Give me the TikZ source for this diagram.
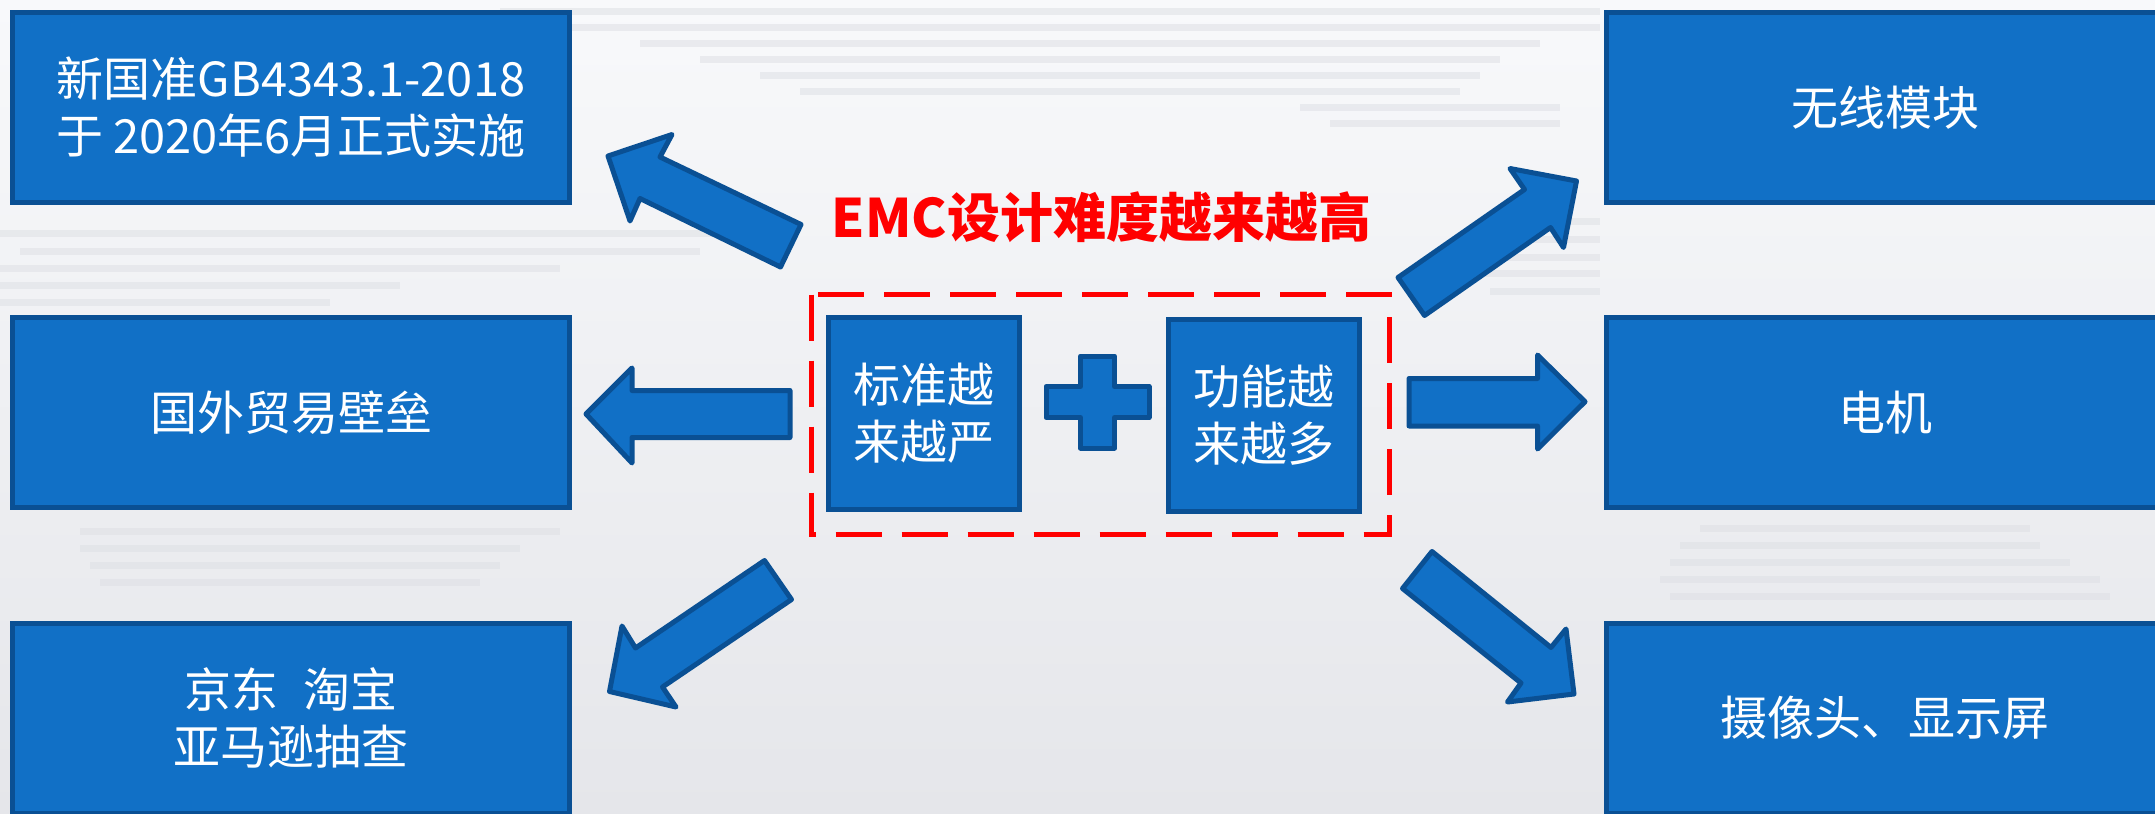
\documentclass[tikz,border=0pt]{standalone}
\usepackage{fontspec}
\setmainfont{Noto Sans CJK SC}
\definecolor{boxfill}{RGB}{17,112,198}
\definecolor{boxline}{RGB}{10,80,148}
\definecolor{bgtop}{RGB}{248,249,251}
\definecolor{bgbot}{RGB}{229,230,234}
\definecolor{stripe}{RGB}{222,224,229}
\definecolor{titlered}{RGB}{255,0,0}
\tikzset{
  panel/.style={draw=boxline, line width=2.5pt, fill=boxfill, text=white,
    font=\fontsize{23.5pt}{28.5pt}\selectfont, align=center, inner sep=0pt,
    minimum width=278.5pt, minimum height=95pt},
  smallpanel/.style={panel, minimum width=95.5pt, minimum height=96pt},
  blockarrow/.style={draw=boxline, line width=2.5pt, fill=boxfill, line join=round},
  frame/.style={draw=titlered, line width=2.5pt, dash pattern=on 23pt off 10pt},
  bgline/.style={fill=stripe, opacity=0.55},
}
\begin{document}
\begin{tikzpicture}[x=0.5pt, y=-0.5pt]
\useasboundingbox (0,0) rectangle (2155,813);
\fill[top color=bgtop, bottom color=bgbot] (0,0) rectangle (2155,813);
% faint blurred background lines
\foreach \y/\a/\b in {230/0/790, 248/20/700, 265/0/560, 282/0/400, 299/0/330,
                      528/80/560, 545/80/520, 562/90/500, 579/100/480,
                      8/500/1600, 24/560/1600, 40/640/1540, 56/700/1500, 72/760/1480, 88/800/1460, 104/1300/1560, 120/1330/1560,
                      218/1530/1600, 236/1500/1600, 254/1480/1600, 270/1480/1600, 288/1490/1600,
                      525/1700/2030, 542/1680/2040, 559/1670/2070, 576/1660/2100, 593/1670/2110}{
  \fill[bgline] (\a,\y) rectangle (\b,\y+7);
}

% side boxes
\node[panel] (l1) at (291,107.5) {新国准GB4343.1-2018\\于 2020年6月正式实施};
\node[panel] (l2) at (291,412.5) {国外贸易壁垒};
\node[panel] (l3) at (291,718) {京东\hspace{0.55em}淘宝\\亚马逊抽查};
\node[panel] (r1) at (1885,107.5) {无线模块};
\node[panel] (r2) at (1885,412.5) {电机};
\node[panel] (r3) at (1885,718) {摄像头、显示屏};

% centre
\node[font=\fontsize{26.5pt}{30pt}\selectfont\bfseries, text=titlered, inner sep=0pt] (title) at (1101.5,217) {EMC设计难度越来越高};
\draw[frame] (811.5,294.5) rectangle (1389.5,534.5);
\node[smallpanel] (c1) at (924,413.5) {标准越\\来越严};
\node[smallpanel] (c2) at (1264,415) {功能越\\来越多};
\draw[blockarrow] (1080.5,356) -- (1114.5,356) -- (1114.5,386.5) -- (1149,386.5) -- (1149,417.5) -- (1114.5,417.5) -- (1114.5,448) -- (1080.5,448) -- (1080.5,417.5) -- (1046,417.5) -- (1046,386.5) -- (1080.5,386.5) -- cycle;

% block arrows
\draw[blockarrow] (608,156) -- (672,134.5) -- (660,157) -- (801,224.5) -- (780.5,267) -- (640,198.5) -- (630,221) -- cycle;
\draw[blockarrow] (586,414) -- (632,368) -- (632,390.5) -- (790,390.5) -- (790,437.5) -- (632,437.5) -- (632,463) -- cycle;
\draw[blockarrow] (609.5,691.5) -- (622,626) -- (635.5,648) -- (764.5,560.5) -- (791.5,599.5) -- (662.5,687) -- (676,707) -- cycle;
\draw[blockarrow] (1576.5,181) -- (1563.5,247.5) -- (1550.5,227.5) -- (1424.5,315.5) -- (1398,277.5) -- (1524.5,189.5) -- (1510,168.5) -- cycle;
\draw[blockarrow] (1585,401.7) -- (1537.5,355) -- (1537.5,378.5) -- (1409,378.5) -- (1409,426) -- (1537.5,426) -- (1537.5,449) -- cycle;
\draw[blockarrow] (1574,694) -- (1507.5,702) -- (1521,683) -- (1402.5,588.5) -- (1432,551.5) -- (1551,647.5) -- (1566,629) -- cycle;
\end{tikzpicture}
\end{document}
